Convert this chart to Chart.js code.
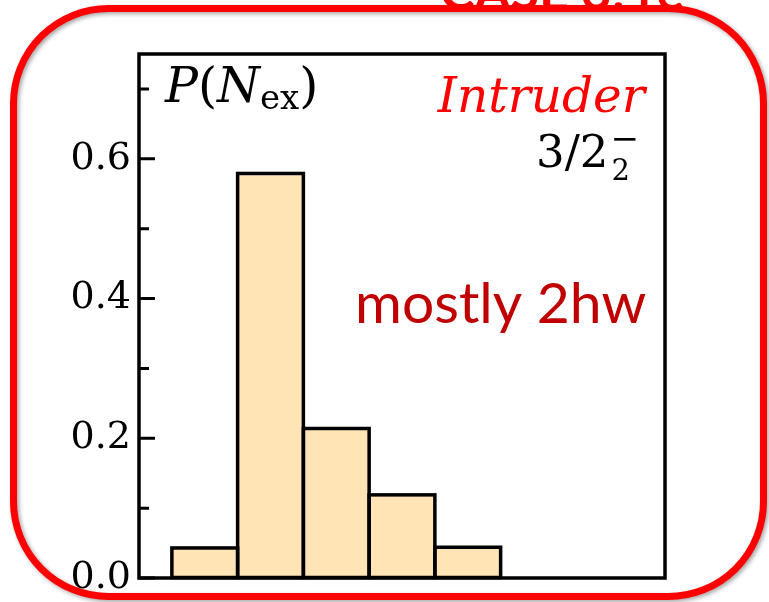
<!DOCTYPE html>
<html>
<head>
<meta charset="utf-8">
<script src="https://cdn.jsdelivr.net/npm/chart.js@4"></script>
<style>
  html, body { margin: 0; padding: 0; background: #fff; }
  #wrap { width: 769px; height: 602px; }
</style>
</head>
<body>
<div id="wrap"><canvas id="chart" width="769" height="602"></canvas></div>
<script>
// Histogram of excitation quanta
const nexValues = [0, 2, 4, 6, 8];
const probValues = [0.043, 0.579, 0.214, 0.119, 0.044];
const yMajorTicks = [0, 0.2, 0.4, 0.6];
const yMinorTicks = [0.1, 0.3, 0.5, 0.7];
const xRange = [-2, 14];
const yRange = [0, 0.75];

const SERIF = '"DejaVu Serif", serif';

// red rounded frame behind everything (slide decoration)
const slideFrame = {
    id: 'slideFrame',
    beforeDraw(chart) {
        const ctx = chart.ctx;
        ctx.save();
        // cut-off heading at the very top
        ctx.fillStyle = '#ff0000';
        ctx.font = 'bold 52px Lato, sans-serif';
        ctx.textBaseline = 'alphabetic';
        ctx.fillText('CASE 3: re', 440, 10);

        ctx.shadowColor = 'rgba(0,0,0,0.35)';
        ctx.shadowBlur = 4;
        ctx.shadowOffsetX = 2;
        ctx.shadowOffsetY = 2;
        ctx.strokeStyle = '#ff0000';
        ctx.lineWidth = 7;
        ctx.beginPath();
        ctx.roundRect(13.5, 8.5, 750, 588, 95);
        ctx.stroke();
        ctx.restore();
    }
};

// matplotlib style: boxed axes, inward ticks, outlined bars, annotations
const axesDecor = {
    id: 'axesDecor',
    afterDatasetsDraw(chart) {
        const ctx = chart.ctx;
        const meta = chart.getDatasetMeta(0);
        ctx.save();
        ctx.strokeStyle = '#000';
        ctx.lineWidth = 3.5;
        meta.data.forEach(bar => {
            const p = bar.getProps(['x', 'y', 'base', 'width'], true);
            ctx.strokeRect(p.x - p.width / 2, p.y, p.width, p.base - p.y);
        });
        ctx.restore();
    },
    afterDraw(chart) {
        const ctx = chart.ctx;
        const area = chart.chartArea;
        const y = chart.scales.y;
        ctx.save();
        ctx.strokeStyle = '#000';
        ctx.lineWidth = 3.5;
        ctx.strokeRect(area.left, area.top, area.right - area.left, area.bottom - area.top);

        ctx.lineWidth = 3;
        ctx.beginPath();
        yMajorTicks.forEach(v => {
            const py = y.getPixelForValue(v);
            ctx.moveTo(area.left, py);
            ctx.lineTo(area.left + 16, py);
        });
        yMinorTicks.forEach(v => {
            const py = y.getPixelForValue(v);
            ctx.moveTo(area.left, py);
            ctx.lineTo(area.left + 10, py);
        });
        ctx.stroke();

        ctx.textBaseline = 'alphabetic';
        ctx.textAlign = 'left';

        // P(N_ex)
        let x = 165;
        const parts = [
            ['P', 'italic 49px ' + SERIF, 0],
            ['(', '49px ' + SERIF, 0],
            ['N', 'italic 49px ' + SERIF, 0],
            ['ex', '34px ' + SERIF, 7],
            [')', '49px ' + SERIF, 0]
        ];
        ctx.fillStyle = '#000';
        parts.forEach(([t, f, dy]) => {
            ctx.font = f;
            ctx.fillText(t, x, 102 + dy);
            x += ctx.measureText(t).width;
        });

        // Intruder
        ctx.fillStyle = '#ff0000';
        ctx.font = 'italic 48.5px ' + SERIF;
        ctx.textAlign = 'right';
        ctx.fillText('Intruder', 645, 112);

        // 3/2_2^-
        ctx.fillStyle = '#000';
        ctx.textAlign = 'left';
        ctx.font = '45px ' + SERIF;
        ctx.fillText('3/2', 536, 167);
        const sx = 536 + ctx.measureText('3/2').width + 3;
        ctx.font = '29px ' + SERIF;
        ctx.fillText('2', sx, 180);
        ctx.font = '34px ' + SERIF;
        ctx.fillText('\u2212', sx - 1, 150);

        // mostly 2hw
        ctx.fillStyle = '#c00000';
        ctx.font = '57px Lato, sans-serif';
        ctx.fillText('mostly 2hw', 355, 323);
        ctx.restore();
    }
};

new Chart(document.getElementById('chart'), {
    type: 'bar',
    data: {
        datasets: [{
            data: nexValues.map((n, i) => ({ x: n, y: probValues[i] })),
            backgroundColor: '#ffe4b5',
            borderWidth: 0,
            barPercentage: 1,
            categoryPercentage: 1
        }]
    },
    options: {
        responsive: false,
        animation: false,
        layout: { padding: { left: 9, right: 104, top: 54, bottom: 24 } },
        plugins: { legend: { display: false }, tooltip: { enabled: false } },
        scales: {
            x: {
                type: 'linear',
                display: false,
                offset: false,
                min: xRange[0],
                max: xRange[1]
            },
            y: {
                min: yRange[0],
                max: yRange[1],
                afterFit: s => { s.width = 130; s.paddingTop = 0; s.paddingBottom = 0; },
                afterBuildTicks: s => { s.ticks = yMajorTicks.map(v => ({ value: v })); },
                grid: { drawOnChartArea: false, drawTicks: false },
                border: { display: false },
                ticks: {
                    padding: 8,
                    color: '#000',
                    font: { family: 'DejaVu Serif', size: 38 },
                    callback: v => v.toFixed(1)
                }
            }
        }
    },
    plugins: [slideFrame, axesDecor]
});
</script>
</body>
</html>
